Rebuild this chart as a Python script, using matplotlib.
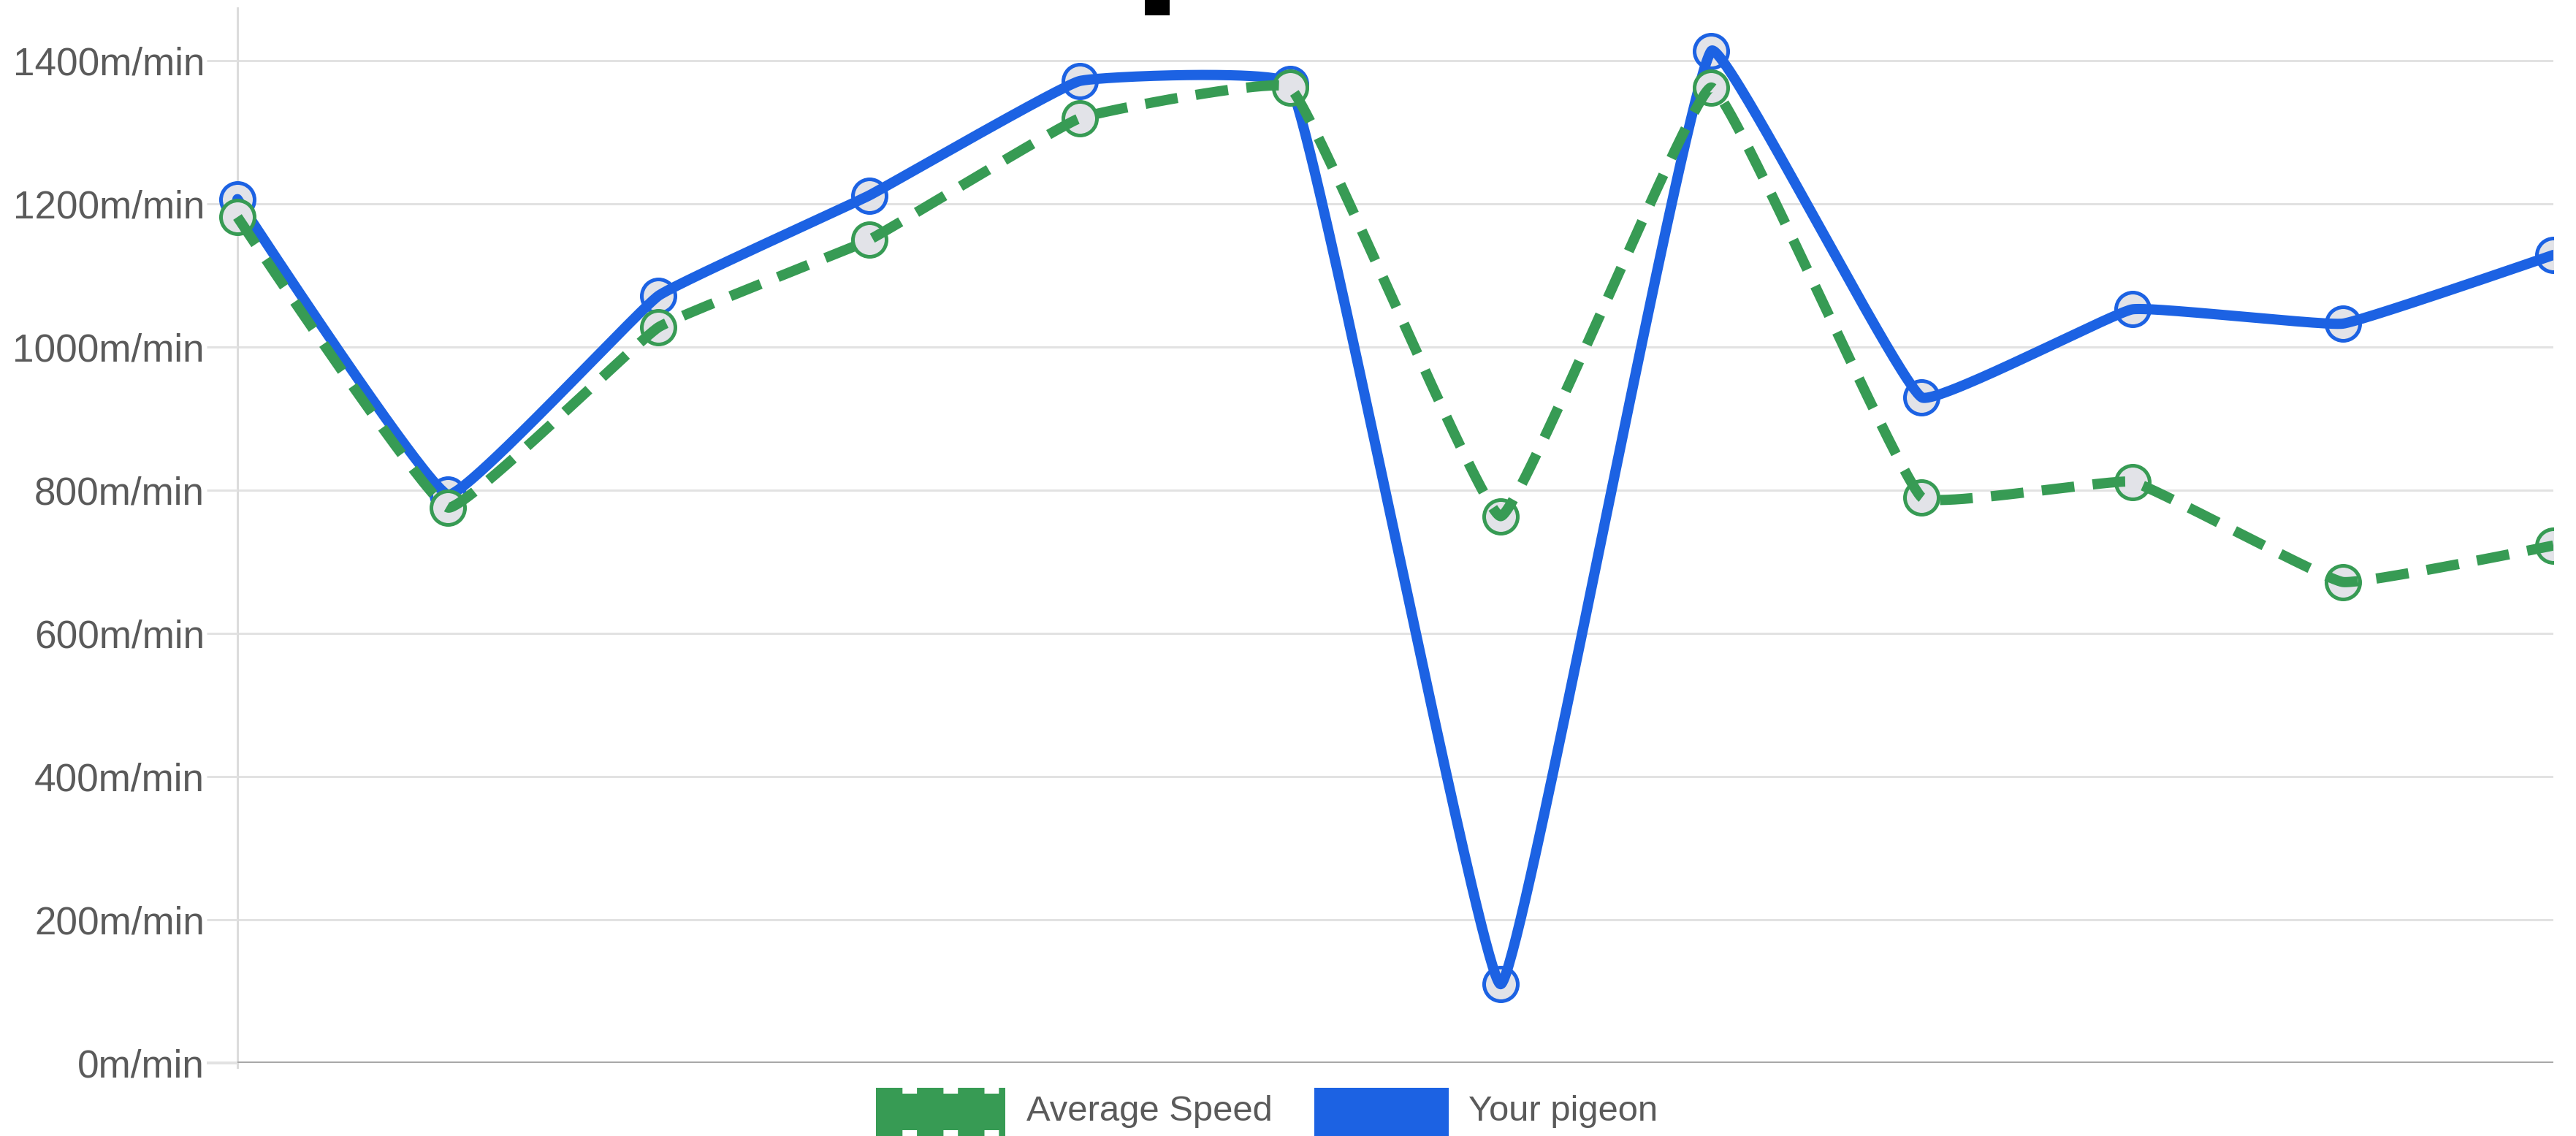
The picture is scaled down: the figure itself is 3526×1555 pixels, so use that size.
import numpy as np
import matplotlib
matplotlib.use("Agg")
import matplotlib.pyplot as plt
from matplotlib.patches import Rectangle
from matplotlib.lines import Line2D
from matplotlib.transforms import Bbox, TransformedBbox

# ---------------- data ----------------
races = [f"Race {i}" for i in range(1, 13)]
average_speed = [1182, 776, 1028, 1150, 1320, 1363, 764, 1363, 790, 812, 672, 723]
your_pigeon = [1207, 794, 1072, 1212, 1372, 1368, 110, 1414, 930, 1053, 1033, 1129]
y_ticks = [0, 200, 400, 600, 800, 1000, 1200, 1400]
y_tick_labels = [f"{v}m/min" for v in y_ticks]
series_names = ["Average Speed", "Your pigeon"]

# ---------------- style ----------------
W, H, DPI = 3526, 1555, 100
BLUE = "#1c62e3"
GREEN = "#379b54"
FILL = "#e2e3e8"
GRID = "#e2e2e2"
TEXT = "#5a5a5a"
FONT = ["Liberation Sans", "DejaVu Sans"]
px = 72.0 / DPI  # points per pixel

fig = plt.figure(figsize=(W / DPI, H / DPI), dpi=DPI)
fig.patch.set_facecolor("white")
ax_left, ax_right = 325 / W, 3495 / W
ax_bottom, ax_top = (H - 1455) / H, (H - 11) / H
ax = fig.add_axes([ax_left, ax_bottom, ax_right - ax_left, ax_top - ax_bottom])
ymax = 1474
n = len(races)
xs = np.arange(n)
ax.set_xlim(0, n - 1)
ax.set_ylim(0, ymax)

for s in ax.spines.values():
    s.set_visible(False)
ax.set_xticks([])
ax.set_yticks(y_ticks)
ax.set_yticklabels(y_tick_labels, family=FONT, fontsize=53 * px, color=TEXT)
ax.tick_params(axis="y", length=42 * px, width=3 * px, color=GRID, pad=3 * px)
ticks = ax.yaxis.get_major_ticks()
ticks[0].tick1line.set_color("#a8a8a8")
ticks[0].tick1line.set_markeredgewidth(4 * px)

for v in y_ticks[1:]:
    ax.axhline(v, color=GRID, lw=3 * px, zorder=0)
ax.axhline(0, color="#a8a8a8", lw=4 * px, zorder=1)
ax.plot([0, 0], [-6, ymax], color="#dcdcdc", lw=3 * px, zorder=0.5, clip_on=False)

# pixel scale factors for smoothing in screen space
sx = (ax_right - ax_left) * W / (n - 1)
sy = (ax_top - ax_bottom) * H / ymax


def smooth(xv, yv, t=0.09, steps=80):
    P = np.column_stack([np.asarray(xv, float) * sx, np.asarray(yv, float) * sy])
    m = len(P)
    cin = P.copy()
    cout = P.copy()
    for i in range(1, m - 1):
        d01 = np.linalg.norm(P[i] - P[i - 1])
        d12 = np.linalg.norm(P[i + 1] - P[i])
        v = P[i + 1] - P[i - 1]
        fa = t * d01 / (d01 + d12)
        fb = t * d12 / (d01 + d12)
        cin[i] = P[i] - fa * v
        cout[i] = P[i] + fb * v
    pts = [P[0]]
    u = np.linspace(0, 1, steps)[1:, None]
    for i in range(m - 1):
        p0, c1, c2, p3 = P[i], cout[i], cin[i + 1], P[i + 1]
        seg = ((1 - u) ** 3) * p0 + 3 * ((1 - u) ** 2) * u * c1 + 3 * (1 - u) * u ** 2 * c2 + u ** 3 * p3
        pts.extend(seg)
    pts = np.array(pts)
    return pts[:, 0] / sx, pts[:, 1] / sy


clipbox = TransformedBbox(Bbox.from_extents(-1, -200, n - 1, 3000), ax.transData)

MS = 46 * px
MEW = 5 * px
# blue series
bx, by = smooth(xs, your_pigeon)
mk_b, = ax.plot(xs, your_pigeon, "o", ms=MS, mfc=FILL, mec=BLUE, mew=MEW, zorder=2)
ln_b, = ax.plot(bx, by, color=BLUE, lw=14 * px, zorder=3, solid_capstyle="round", solid_joinstyle="round")
# green series
gx, gy = smooth(xs, average_speed)
mk_g, = ax.plot(xs, average_speed, "o", ms=MS, mfc=FILL, mec=GREEN, mew=MEW, zorder=4)
ln_g, = ax.plot(gx, gy, color=GREEN, lw=14 * px, zorder=5, dashes=(3.2, 1.8), dash_capstyle="butt")
for a in (mk_b, ln_b, mk_g, ln_g):
    a.set_clip_on(True)
    a.set_clip_box(clipbox)

# ---------------- legend ----------------
def fx(v):
    return v / W


def fy(v):
    return (H - v) / H


ly0, ly1 = 1489, 1555
# green icon: body + thick dashed line for notched look
fig.add_artist(Rectangle((fx(1199), fy(ly1 - 8)), fx(1376) - fx(1199), fy(ly0 + 8) - fy(ly1 - 8),
                         transform=fig.transFigure, color=GREEN, lw=0))
fig.add_artist(Line2D([fx(1199), fx(1376)], [fy((ly0 + ly1) / 2)] * 2, transform=fig.transFigure,
                      color=GREEN, lw=(ly1 - ly0) * px, dashes=(0.55, 0.3), dash_capstyle="butt"))
fig.add_artist(Rectangle((fx(1799), fy(ly1)), fx(1983) - fx(1799), fy(ly0) - fy(ly1),
                         transform=fig.transFigure, color=BLUE, lw=0))
fig.text(fx(1405), fy((ly0 + ly1) / 2), series_names[0], family=FONT, fontsize=49 * px,
         color=TEXT, va="center", ha="left")
fig.text(fx(2010), fy((ly0 + ly1) / 2), series_names[1], family=FONT, fontsize=49 * px,
         color=TEXT, va="center", ha="left")

# cut-off title fragment at top
fig.add_artist(Rectangle((fx(1567), fy(21)), fx(1601) - fx(1567), fy(0) - fy(21),
                         transform=fig.transFigure, color="black", lw=0))

fig.savefig("out.png", dpi=DPI, facecolor="white")
